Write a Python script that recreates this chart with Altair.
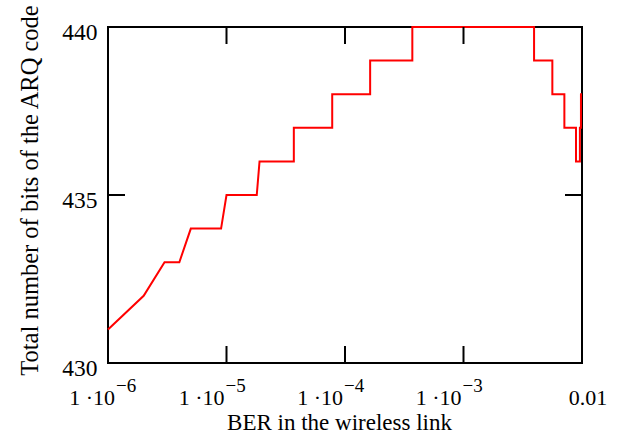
import altair as alt
import pandas as pd

# Curve vertices (BER, total number of bits)
ber = [1e-6, 2e-6, 3e-6, 4e-6, 5e-6, 9e-6, 1e-5, 1.8e-5, 1.9e-5, 3.7e-5,
       3.7e-5, 7.8e-5, 7.8e-5, 1.63e-4, 1.63e-4, 3.7e-4, 3.7e-4, 3.94e-3, 3.94e-3, 5.62e-3,
       5.62e-3, 7.1e-3, 7.1e-3, 8.9e-3, 8.9e-3, 9.6e-3, 9.6e-3, 9.8e-3, 9.8e-3, 1e-2]
bits = [431, 432, 433, 433, 434, 434, 435, 435, 436, 436,
        437, 437, 438, 438, 439, 439, 440, 440, 439, 439,
        438, 438, 437, 437, 436, 436, 437, 437, 438, 438]

x_ticks = [1e-6, 1e-5, 1e-4, 1e-3, 1e-2]
y_ticks = [430, 435, 440]
x_label_at = [1e-6, 1e-5, 1e-4, 1e-3]
x_label_base = ["1 \u00b710", "1 \u00b710", "1 \u00b710", "1 \u00b710"]
x_label_exp = ["\u22126", "\u22125", "\u22124", "\u22123"]
last_label_at = [1e-2]
last_label = ["0.01"]

W, H = 474, 336
FONT = "Liberation Serif"

curve = pd.DataFrame({"ber": ber, "bits": bits, "idx": list(range(len(ber)))})
xt = pd.DataFrame({"ber": x_ticks})
yt = pd.DataFrame({"bits": y_ticks})
xl = pd.DataFrame({"ber": x_label_at, "base": x_label_base, "exp": x_label_exp})
ll = pd.DataFrame({"ber": last_label_at, "lab": last_label})

xscale = alt.Scale(type="log", domain=[1e-6, 1e-2], nice=False)
yscale = alt.Scale(domain=[430, 440], nice=False, zero=False)

x_axis = alt.Axis(labels=False, ticks=False, domain=False, grid=False,
                  title="BER in the wireless link", titleFont=FONT,
                  titleFontSize=23, titleFontWeight="normal", titleColor="black",
                  titleX=231, titleY=66, titleBaseline="alphabetic",
                  titleAlign="center")
y_axis = alt.Axis(values=y_ticks, ticks=False, tickSize=0, domain=False, grid=False,
                  labelFont=FONT, labelFontSize=23.5, labelColor="black",
                  labelPadding=11, labelOffset=5,
                  title="Total number of bits of the ARQ code", titleFont=FONT,
                  titleFontSize=24.5, titleFontWeight="normal", titleColor="black",
                  titleX=-71, titleY=163, titleAngle=270,
                  titleBaseline="alphabetic", titleAlign="center")

X = alt.X("ber:Q", scale=xscale, axis=x_axis, title="BER in the wireless link")
Y = alt.Y("bits:Q", scale=yscale, axis=y_axis, title="Total number of bits of the ARQ code")

line = alt.Chart(curve).mark_line(color="#ff0000", strokeWidth=2, clip=False).encode(
    x=X, y=Y, order=alt.Order("idx:Q"))

tick_style = dict(color="black", strokeWidth=2)
xt_bottom = alt.Chart(xt).mark_rule(**tick_style).encode(
    x=X, y=alt.value(H - 17), y2=alt.value(H))
xt_top = alt.Chart(xt).mark_rule(**tick_style).encode(
    x=X, y=alt.value(0), y2=alt.value(17))
yt_left = alt.Chart(yt).mark_rule(**tick_style).encode(
    y=Y, x=alt.value(0), x2=alt.value(17))
yt_right = alt.Chart(yt).mark_rule(**tick_style).encode(
    y=Y, x=alt.value(W - 17), x2=alt.value(W))

first = alt.datum.ber < 2e-6
rest = alt.datum.ber >= 2e-6

def base_layer(flt, dx):
    return alt.Chart(xl).transform_filter(flt).mark_text(
        font=FONT, fontSize=22, color="black", align="right",
        baseline="alphabetic", dx=dx).encode(x=X, y=alt.value(H + 42), text="base:N")

def exp_layer(flt, dx):
    return alt.Chart(xl).transform_filter(flt).mark_text(
        font=FONT, fontSize=19, color="black", align="left",
        baseline="alphabetic", dx=dx).encode(x=X, y=alt.value(H + 29), text="exp:N")

last_lab = alt.Chart(ll).mark_text(font=FONT, fontSize=22, color="black", align="center",
                                   baseline="alphabetic", dx=6).encode(
    x=X, y=alt.value(H + 42), text="lab:N")

chart = alt.layer(
    line, xt_bottom, xt_top, yt_left, yt_right,
    base_layer(first, 7), exp_layer(first, 8),
    base_layer(rest, -2), exp_layer(rest, -1),
    last_lab,
).properties(
    width=W, height=H,
    autosize=alt.AutoSizeParams(type="none"),
    padding={"left": 108, "top": 27, "right": 38, "bottom": 73},
    background="white",
).configure_view(stroke="black", strokeWidth=2)

chart.save("out.html", embed_options={"renderer": "svg", "actions": False})
